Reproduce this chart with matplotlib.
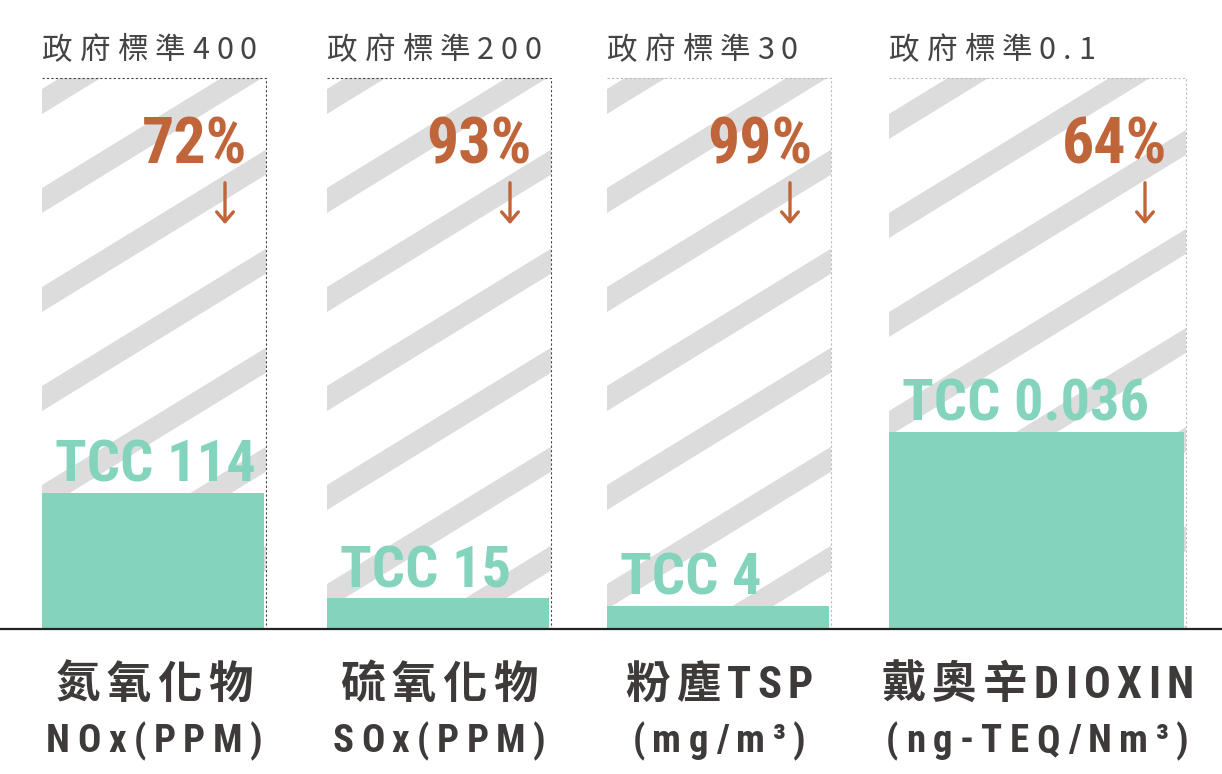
import matplotlib
matplotlib.use('Agg')
import matplotlib.pyplot as plt
from matplotlib import font_manager as fm
from matplotlib.patches import Rectangle, Polygon

# values
categories = ['氮氧化物', '硫氧化物', '粉塵TSP', '戴奧辛DIOXIN']
units = ['NOx(PPM)', 'SOx(PPM)', '(mg/m³)', '(ng-TEQ/Nm³)']
standards = ['400', '200', '30', '0.1']
tcc_values = ['114', '15', '4', '0.036']
reductions = ['72%', '93%', '99%', '64%']
bar_fracs = [0.247, 0.056, 0.042, 0.358]   # TCC bar height as share of the standard box

W, H = 1222, 774
base_y = 629          # baseline in image pixels
box_h = 551           # standard box height in pixels

lefts = [42, 327, 607, 889]
widths = [224, 224, 224, 297]
stripe_phase = [20, 20, 20, 94]
border_cols = ['#444444', '#444444', '#bbbbbb', '#bbbbbb']

green = '#84d4bd'
orange = '#c0643a'
dark = '#3d3a39'

# a condensed bold face for the big numbers, if one is around
have = {f.name for f in fm.fontManager.ttflist}
narrow = 'DejaVu Sans'
for cand in ['Roboto Condensed', 'Barlow Semi Condensed', 'Fira Sans Condensed',
             'Open Sans Condensed', 'Liberation Sans Narrow', 'Barlow Condensed']:
    if cand in have:
        narrow = cand
        break
num_scale = 1.0 if narrow != 'DejaVu Sans' else 0.78
cjk = ['Noto Sans CJK TC', 'DejaVu Sans']
mixed = [narrow, 'Noto Sans CJK TC', 'DejaVu Sans']

fig = plt.figure(figsize=(W / 100, H / 100), dpi=100)
ax = fig.add_axes([0, (H - base_y) / H, 1, box_h / H])
ax.set_xlim(0, W)
ax.set_ylim(0, 1)
ax.axis('off')


def tracked(s, cx, y, size, tracking, align='center', **kw):
    r = fig.canvas.get_renderer()
    ws = []
    for ch in s:
        t = fig.text(0, 0, ch, fontsize=size, **kw)
        ws.append(t.get_window_extent(r).width)
        t.remove()
    total = sum(ws) + tracking * (len(s) - 1)
    x = cx - total / 2 if align == 'center' else cx
    for ch, w in zip(s, ws):
        fig.text(x / W, 1 - y / H, ch, fontsize=size, va='baseline', ha='left', **kw)
        x += w + tracking


slope, period, thick = 0.613, 99, 25

for i in range(4):
    x0, w = lefts[i], widths[i]
    x1 = x0 + w
    box = Rectangle((x0, 0), w, 1, facecolor='white', edgecolor='none', zorder=1)
    ax.add_patch(box)

    # diagonal stripes of the standard box
    c = stripe_phase[i] - period * 10
    while c < box_h:
        pts = [(x0, c / box_h), (x1, (c + slope * w) / box_h),
               (x1, (c + thick + slope * w) / box_h), (x0, (c + thick) / box_h)]
        p = Polygon(pts, closed=True, facecolor='#dcdcdc', edgecolor='none', zorder=2)
        ax.add_patch(p)
        p.set_clip_path(box)
        c += period

    # dashed border top and right
    ax.plot([x0, x1, x1], [1, 1, 0], color=border_cols[i], lw=0.8,
            linestyle=(0, (2, 2)), zorder=3, clip_on=False)

    # TCC bar
    ax.bar(x0, bar_fracs[i], width=w - 2, align='edge', color=green, zorder=4)
    ax.text(x0 + 13, bar_fracs[i] + 11 / box_h, 'TCC ' + tcc_values[i],
            color=green, fontsize=42 * num_scale, fontweight='bold', family=narrow,
            ha='left', va='baseline', zorder=5)

    # reduction and arrow
    ax.text(x1 - 19, (base_y - 163) / box_h, reductions[i], color=orange,
            fontsize=46 * num_scale, fontweight='bold', family=narrow,
            ha='right', va='baseline', zorder=5)
    ax_x = x1 - 41
    ax.annotate('', xy=(ax_x, (base_y - 227) / box_h), xytext=(ax_x, (base_y - 180) / box_h),
                arrowprops=dict(arrowstyle='->,head_length=0.7,head_width=0.6',
                                color=orange, lw=2.4), zorder=5)

    # standard title above the box
    tracked('政府標準' + standards[i], x0, 59, 22, 7, align='left',
            color='#444444', family=cjk)

    # category labels below
    cx = x0 + w / 2
    tracked(categories[i], cx, 698, 32, 6.3, color=dark, family=mixed, fontweight='bold')
    tracked(units[i], cx, 752, 28, 7.5, color=dark, family=mixed, fontweight='bold')

ax.plot([0, W], [0, 0], color='#222222', lw=1.6, zorder=6, clip_on=False)

fig.savefig('out.png', dpi=100)
